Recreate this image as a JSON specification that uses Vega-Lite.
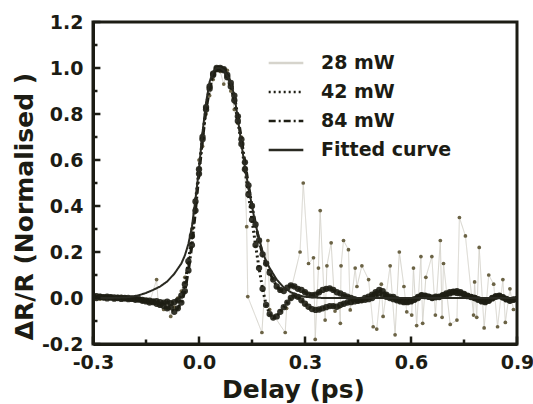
{
  "$schema": "https://vega.github.io/schema/vega-lite/v6.json",
  "width": 424,
  "height": 322,
  "autosize": {"type": "none"},
  "padding": {"left": 93, "top": 22, "right": 16, "bottom": 60},
  "background": "white",
  "config": {
    "view": {"stroke": null},
    "font": "DejaVu Sans",
    "axis": {
      "grid": false,
      "labelFont": "DejaVu Sans",
      "labelFontWeight": "bold",
      "labelFontSize": 19,
      "labelColor": "#1c1c14",
      "titleFont": "DejaVu Sans",
      "titleFontWeight": "bold",
      "titleFontSize": 25,
      "titleColor": "#1c1c14"
    },
    "legend": {
      "orient": "none",
      "legendX": 174,
      "legendY": 22,
      "title": null,
      "symbolType": "stroke",
      "symbolSize": 1200,
      "symbolStrokeWidth": 2.5,
      "labelFont": "DejaVu Sans",
      "labelFontWeight": "bold",
      "labelFontSize": 19,
      "labelColor": "#1c1c14",
      "labelOffset": 16,
      "rowPadding": 0,
      "labelLimit": 300
    }
  },
  "datasets": {
    "frame": [
      {"i": 0, "x": -0.3, "y": -0.2},
      {"i": 1, "x": 0.9, "y": -0.2},
      {"i": 2, "x": 0.9, "y": 1.2},
      {"i": 3, "x": -0.3, "y": 1.2},
      {"i": 4, "x": -0.3, "y": -0.2}
    ],
    "xticks": [
      {"x": -0.3, "y": -0.2, "k": "major"},
      {"x": -0.15, "y": -0.2, "k": "minor"},
      {"x": 0.0, "y": -0.2, "k": "major"},
      {"x": 0.15, "y": -0.2, "k": "minor"},
      {"x": 0.3, "y": -0.2, "k": "major"},
      {"x": 0.45, "y": -0.2, "k": "minor"},
      {"x": 0.6, "y": -0.2, "k": "major"},
      {"x": 0.75, "y": -0.2, "k": "minor"},
      {"x": 0.9, "y": -0.2, "k": "major"}
    ],
    "yticks": [
      {"x": -0.3, "y": -0.2, "k": "major"},
      {"x": -0.3, "y": -0.1, "k": "minor"},
      {"x": -0.3, "y": 0.0, "k": "major"},
      {"x": -0.3, "y": 0.1, "k": "minor"},
      {"x": -0.3, "y": 0.2, "k": "major"},
      {"x": -0.3, "y": 0.3, "k": "minor"},
      {"x": -0.3, "y": 0.4, "k": "major"},
      {"x": -0.3, "y": 0.5, "k": "minor"},
      {"x": -0.3, "y": 0.6, "k": "major"},
      {"x": -0.3, "y": 0.7, "k": "minor"},
      {"x": -0.3, "y": 0.8, "k": "major"},
      {"x": -0.3, "y": 0.9, "k": "minor"},
      {"x": -0.3, "y": 1.0, "k": "major"},
      {"x": -0.3, "y": 1.1, "k": "minor"},
      {"x": -0.3, "y": 1.2, "k": "major"}
    ],
    "meas": [
      {"x": -0.30, "42 mW": 0.010, "84 mW": 0.005},
      {"x": -0.29, "42 mW": 0.008, "84 mW": 0.000},
      {"x": -0.28, "42 mW": 0.005, "84 mW": 0.006},
      {"x": -0.27, "42 mW": 0.004, "84 mW": 0.002},
      {"x": -0.26, "42 mW": 0.006, "84 mW": -0.002},
      {"x": -0.25, "42 mW": 0.002, "84 mW": 0.004},
      {"x": -0.24, "42 mW": 0.003, "84 mW": -0.003},
      {"x": -0.23, "42 mW": 0.000, "84 mW": 0.002},
      {"x": -0.22, "42 mW": 0.002, "84 mW": -0.004},
      {"x": -0.21, "42 mW": -0.002, "84 mW": 0.000},
      {"x": -0.20, "42 mW": 0.000, "84 mW": -0.005},
      {"x": -0.19, "42 mW": -0.004, "84 mW": -0.002},
      {"x": -0.18, "42 mW": -0.003, "84 mW": -0.008},
      {"x": -0.17, "42 mW": -0.006, "84 mW": -0.006},
      {"x": -0.16, "42 mW": -0.008, "84 mW": -0.012},
      {"x": -0.15, "42 mW": -0.010, "84 mW": -0.015},
      {"x": -0.14, "42 mW": -0.012, "84 mW": -0.020},
      {"x": -0.13, "42 mW": -0.015, "84 mW": -0.018},
      {"x": -0.12, "42 mW": -0.014, "84 mW": -0.025},
      {"x": -0.11, "42 mW": -0.018, "84 mW": -0.030},
      {"x": -0.10, "42 mW": -0.020, "84 mW": -0.035},
      {"x": -0.09, "42 mW": -0.016, "84 mW": -0.045},
      {"x": -0.08, "42 mW": -0.022, "84 mW": -0.040},
      {"x": -0.07, "42 mW": -0.018, "84 mW": -0.060},
      {"x": -0.06, "42 mW": -0.010, "84 mW": -0.045},
      {"x": -0.05, "42 mW": 0.010, "84 mW": -0.020},
      {"x": -0.04, "42 mW": 0.060, "84 mW": 0.030},
      {"x": -0.03, "42 mW": 0.160, "84 mW": 0.120},
      {"x": -0.02, "42 mW": 0.270, "84 mW": 0.230},
      {"x": -0.01, "42 mW": 0.420, "84 mW": 0.380},
      {"x": 0.00, "42 mW": 0.560, "84 mW": 0.540},
      {"x": 0.01, "42 mW": 0.700, "84 mW": 0.690},
      {"x": 0.02, "42 mW": 0.830, "84 mW": 0.820},
      {"x": 0.03, "42 mW": 0.920, "84 mW": 0.910},
      {"x": 0.04, "42 mW": 0.970, "84 mW": 0.975},
      {"x": 0.05, "42 mW": 0.995, "84 mW": 1.000},
      {"x": 0.06, "42 mW": 1.000, "84 mW": 0.995},
      {"x": 0.07, "42 mW": 0.995, "84 mW": 0.990},
      {"x": 0.08, "42 mW": 0.960, "84 mW": 0.970},
      {"x": 0.09, "42 mW": 0.920, "84 mW": 0.935},
      {"x": 0.10, "42 mW": 0.860, "84 mW": 0.880},
      {"x": 0.11, "42 mW": 0.770, "84 mW": 0.790},
      {"x": 0.12, "42 mW": 0.670, "84 mW": 0.690},
      {"x": 0.13, "42 mW": 0.560, "84 mW": 0.590},
      {"x": 0.14, "42 mW": 0.450, "84 mW": 0.490},
      {"x": 0.15, "42 mW": 0.340, "84 mW": 0.400},
      {"x": 0.16, "42 mW": 0.230, "84 mW": 0.320},
      {"x": 0.17, "42 mW": 0.130, "84 mW": 0.250},
      {"x": 0.18, "42 mW": 0.040, "84 mW": 0.190},
      {"x": 0.19, "42 mW": -0.030, "84 mW": 0.150},
      {"x": 0.20, "42 mW": -0.070, "84 mW": 0.110},
      {"x": 0.21, "42 mW": -0.085, "84 mW": 0.080},
      {"x": 0.22, "42 mW": -0.080, "84 mW": 0.050},
      {"x": 0.23, "42 mW": -0.060, "84 mW": 0.035},
      {"x": 0.24, "42 mW": -0.040, "84 mW": 0.030},
      {"x": 0.25, "42 mW": -0.020, "84 mW": 0.045},
      {"x": 0.26, "42 mW": 0.000, "84 mW": 0.055},
      {"x": 0.27, "42 mW": 0.010, "84 mW": 0.050},
      {"x": 0.28, "42 mW": 0.005, "84 mW": 0.040},
      {"x": 0.29, "42 mW": -0.010, "84 mW": 0.035},
      {"x": 0.30, "42 mW": -0.025, "84 mW": 0.025},
      {"x": 0.31, "42 mW": -0.038, "84 mW": 0.015},
      {"x": 0.32, "42 mW": -0.048, "84 mW": 0.012},
      {"x": 0.33, "42 mW": -0.052, "84 mW": 0.015},
      {"x": 0.34, "42 mW": -0.050, "84 mW": 0.025},
      {"x": 0.35, "42 mW": -0.045, "84 mW": 0.035},
      {"x": 0.36, "42 mW": -0.040, "84 mW": 0.040},
      {"x": 0.37, "42 mW": -0.035, "84 mW": 0.042},
      {"x": 0.38, "42 mW": -0.035, "84 mW": 0.035},
      {"x": 0.39, "42 mW": -0.038, "84 mW": 0.025},
      {"x": 0.40, "42 mW": -0.030, "84 mW": 0.020},
      {"x": 0.41, "42 mW": -0.025, "84 mW": 0.012},
      {"x": 0.42, "42 mW": -0.020, "84 mW": 0.006},
      {"x": 0.43, "42 mW": -0.018, "84 mW": 0.000},
      {"x": 0.44, "42 mW": -0.015, "84 mW": -0.005},
      {"x": 0.45, "42 mW": -0.012, "84 mW": -0.010},
      {"x": 0.46, "42 mW": -0.010, "84 mW": -0.008},
      {"x": 0.47, "42 mW": -0.008, "84 mW": 0.000},
      {"x": 0.48, "42 mW": -0.005, "84 mW": 0.006},
      {"x": 0.49, "42 mW": 0.000, "84 mW": 0.015},
      {"x": 0.50, "42 mW": 0.010, "84 mW": 0.025},
      {"x": 0.51, "42 mW": 0.020, "84 mW": 0.035},
      {"x": 0.52, "42 mW": 0.015, "84 mW": 0.030},
      {"x": 0.53, "42 mW": 0.005, "84 mW": 0.015},
      {"x": 0.54, "42 mW": 0.000, "84 mW": 0.006},
      {"x": 0.55, "42 mW": -0.005, "84 mW": 0.005},
      {"x": 0.56, "42 mW": -0.010, "84 mW": -0.005},
      {"x": 0.57, "42 mW": -0.015, "84 mW": -0.010},
      {"x": 0.58, "42 mW": -0.018, "84 mW": -0.015},
      {"x": 0.59, "42 mW": -0.015, "84 mW": -0.018},
      {"x": 0.60, "42 mW": -0.012, "84 mW": -0.015},
      {"x": 0.61, "42 mW": -0.005, "84 mW": -0.008},
      {"x": 0.62, "42 mW": 0.005, "84 mW": 0.000},
      {"x": 0.63, "42 mW": 0.010, "84 mW": 0.012},
      {"x": 0.64, "42 mW": 0.008, "84 mW": 0.010},
      {"x": 0.65, "42 mW": 0.005, "84 mW": 0.006},
      {"x": 0.66, "42 mW": 0.000, "84 mW": 0.002},
      {"x": 0.67, "42 mW": 0.003, "84 mW": 0.006},
      {"x": 0.68, "42 mW": 0.006, "84 mW": 0.004},
      {"x": 0.69, "42 mW": 0.010, "84 mW": 0.012},
      {"x": 0.70, "42 mW": 0.015, "84 mW": 0.020},
      {"x": 0.71, "42 mW": 0.020, "84 mW": 0.025},
      {"x": 0.72, "42 mW": 0.025, "84 mW": 0.028},
      {"x": 0.73, "42 mW": 0.022, "84 mW": 0.030},
      {"x": 0.74, "42 mW": 0.020, "84 mW": 0.025},
      {"x": 0.75, "42 mW": 0.015, "84 mW": 0.018},
      {"x": 0.76, "42 mW": 0.010, "84 mW": 0.008},
      {"x": 0.77, "42 mW": 0.005, "84 mW": 0.004},
      {"x": 0.78, "42 mW": 0.000, "84 mW": 0.000},
      {"x": 0.79, "42 mW": -0.005, "84 mW": -0.008},
      {"x": 0.80, "42 mW": -0.012, "84 mW": -0.015},
      {"x": 0.81, "42 mW": -0.015, "84 mW": -0.018},
      {"x": 0.82, "42 mW": -0.010, "84 mW": -0.012},
      {"x": 0.83, "42 mW": -0.002, "84 mW": 0.000},
      {"x": 0.84, "42 mW": 0.005, "84 mW": 0.008},
      {"x": 0.85, "42 mW": 0.008, "84 mW": 0.010},
      {"x": 0.86, "42 mW": 0.002, "84 mW": 0.004},
      {"x": 0.87, "42 mW": -0.004, "84 mW": -0.006},
      {"x": 0.88, "42 mW": -0.010, "84 mW": -0.012},
      {"x": 0.89, "42 mW": -0.006, "84 mW": -0.008},
      {"x": 0.90, "42 mW": -0.004, "84 mW": -0.005}
    ],
    "noisy": [
      {"s": "28 mW", "x": -0.30, "y": 0.005},
      {"s": "28 mW", "x": -0.28, "y": -0.005},
      {"s": "28 mW", "x": -0.26, "y": 0.008},
      {"s": "28 mW", "x": -0.24, "y": -0.004},
      {"s": "28 mW", "x": -0.22, "y": 0.006},
      {"s": "28 mW", "x": -0.20, "y": -0.006},
      {"s": "28 mW", "x": -0.18, "y": 0.004},
      {"s": "28 mW", "x": -0.16, "y": -0.012},
      {"s": "28 mW", "x": -0.14, "y": -0.020},
      {"s": "28 mW", "x": -0.12, "y": 0.080},
      {"s": "28 mW", "x": -0.115, "y": -0.030},
      {"s": "28 mW", "x": -0.10, "y": -0.050},
      {"s": "28 mW", "x": -0.09, "y": -0.020},
      {"s": "28 mW", "x": -0.08, "y": -0.080},
      {"s": "28 mW", "x": -0.07, "y": -0.040},
      {"s": "28 mW", "x": -0.06, "y": 0.000},
      {"s": "28 mW", "x": -0.05, "y": 0.030},
      {"s": "28 mW", "x": -0.04, "y": 0.090},
      {"s": "28 mW", "x": -0.03, "y": 0.150},
      {"s": "28 mW", "x": -0.02, "y": 0.300},
      {"s": "28 mW", "x": -0.01, "y": 0.380},
      {"s": "28 mW", "x": 0.00, "y": 0.600},
      {"s": "28 mW", "x": 0.01, "y": 0.660},
      {"s": "28 mW", "x": 0.02, "y": 0.800},
      {"s": "28 mW", "x": 0.03, "y": 0.880},
      {"s": "28 mW", "x": 0.04, "y": 0.950},
      {"s": "28 mW", "x": 0.05, "y": 0.990},
      {"s": "28 mW", "x": 0.06, "y": 0.985},
      {"s": "28 mW", "x": 0.07, "y": 0.930},
      {"s": "28 mW", "x": 0.08, "y": 0.990},
      {"s": "28 mW", "x": 0.09, "y": 0.900},
      {"s": "28 mW", "x": 0.10, "y": 0.820},
      {"s": "28 mW", "x": 0.11, "y": 0.760},
      {"s": "28 mW", "x": 0.12, "y": 0.700},
      {"s": "28 mW", "x": 0.13, "y": 0.560},
      {"s": "28 mW", "x": 0.135, "y": 0.310},
      {"s": "28 mW", "x": 0.138, "y": 0.006},
      {"s": "28 mW", "x": 0.178, "y": -0.150},
      {"s": "28 mW", "x": 0.195, "y": 0.250},
      {"s": "28 mW", "x": 0.200, "y": -0.050},
      {"s": "28 mW", "x": 0.244, "y": -0.150},
      {"s": "28 mW", "x": 0.248, "y": -0.045},
      {"s": "28 mW", "x": 0.286, "y": 0.200},
      {"s": "28 mW", "x": 0.295, "y": 0.500},
      {"s": "28 mW", "x": 0.310, "y": 0.150},
      {"s": "28 mW", "x": 0.324, "y": 0.175},
      {"s": "28 mW", "x": 0.329, "y": -0.180},
      {"s": "28 mW", "x": 0.338, "y": 0.130},
      {"s": "28 mW", "x": 0.343, "y": 0.380},
      {"s": "28 mW", "x": 0.357, "y": -0.096},
      {"s": "28 mW", "x": 0.362, "y": 0.140},
      {"s": "28 mW", "x": 0.374, "y": 0.240},
      {"s": "28 mW", "x": 0.385, "y": -0.057},
      {"s": "28 mW", "x": 0.397, "y": -0.040},
      {"s": "28 mW", "x": 0.400, "y": -0.110},
      {"s": "28 mW", "x": 0.402, "y": 0.140},
      {"s": "28 mW", "x": 0.409, "y": 0.250},
      {"s": "28 mW", "x": 0.423, "y": 0.210},
      {"s": "28 mW", "x": 0.428, "y": -0.052},
      {"s": "28 mW", "x": 0.442, "y": 0.130},
      {"s": "28 mW", "x": 0.447, "y": 0.050},
      {"s": "28 mW", "x": 0.461, "y": 0.140},
      {"s": "28 mW", "x": 0.480, "y": 0.080},
      {"s": "28 mW", "x": 0.493, "y": -0.125},
      {"s": "28 mW", "x": 0.503, "y": -0.135},
      {"s": "28 mW", "x": 0.516, "y": 0.060},
      {"s": "28 mW", "x": 0.521, "y": -0.080},
      {"s": "28 mW", "x": 0.541, "y": 0.140},
      {"s": "28 mW", "x": 0.555, "y": -0.160},
      {"s": "28 mW", "x": 0.567, "y": 0.200},
      {"s": "28 mW", "x": 0.580, "y": 0.050},
      {"s": "28 mW", "x": 0.588, "y": -0.060},
      {"s": "28 mW", "x": 0.602, "y": -0.074},
      {"s": "28 mW", "x": 0.607, "y": 0.130},
      {"s": "28 mW", "x": 0.616, "y": -0.120},
      {"s": "28 mW", "x": 0.628, "y": 0.180},
      {"s": "28 mW", "x": 0.633, "y": -0.110},
      {"s": "28 mW", "x": 0.642, "y": 0.090},
      {"s": "28 mW", "x": 0.659, "y": 0.180},
      {"s": "28 mW", "x": 0.669, "y": -0.074},
      {"s": "28 mW", "x": 0.683, "y": 0.250},
      {"s": "28 mW", "x": 0.688, "y": -0.084},
      {"s": "28 mW", "x": 0.692, "y": 0.150},
      {"s": "28 mW", "x": 0.711, "y": -0.115},
      {"s": "28 mW", "x": 0.730, "y": -0.096},
      {"s": "28 mW", "x": 0.737, "y": 0.350},
      {"s": "28 mW", "x": 0.754, "y": 0.270},
      {"s": "28 mW", "x": 0.777, "y": -0.074},
      {"s": "28 mW", "x": 0.780, "y": 0.070},
      {"s": "28 mW", "x": 0.786, "y": -0.084},
      {"s": "28 mW", "x": 0.793, "y": 0.220},
      {"s": "28 mW", "x": 0.807, "y": -0.130},
      {"s": "28 mW", "x": 0.820, "y": 0.100},
      {"s": "28 mW", "x": 0.834, "y": 0.060},
      {"s": "28 mW", "x": 0.845, "y": -0.125},
      {"s": "28 mW", "x": 0.860, "y": 0.080},
      {"s": "28 mW", "x": 0.867, "y": -0.106},
      {"s": "28 mW", "x": 0.880, "y": 0.040},
      {"s": "28 mW", "x": 0.890, "y": -0.050}
    ],
    "fit": [
      {"s": "Fitted curve", "x": -0.30, "y": 0.000},
      {"s": "Fitted curve", "x": -0.25, "y": 0.000},
      {"s": "Fitted curve", "x": -0.20, "y": 0.003},
      {"s": "Fitted curve", "x": -0.17, "y": 0.012},
      {"s": "Fitted curve", "x": -0.15, "y": 0.022},
      {"s": "Fitted curve", "x": -0.13, "y": 0.035},
      {"s": "Fitted curve", "x": -0.11, "y": 0.050},
      {"s": "Fitted curve", "x": -0.09, "y": 0.072},
      {"s": "Fitted curve", "x": -0.07, "y": 0.105},
      {"s": "Fitted curve", "x": -0.05, "y": 0.150},
      {"s": "Fitted curve", "x": -0.04, "y": 0.185},
      {"s": "Fitted curve", "x": -0.03, "y": 0.235},
      {"s": "Fitted curve", "x": -0.02, "y": 0.310},
      {"s": "Fitted curve", "x": -0.01, "y": 0.430},
      {"s": "Fitted curve", "x": 0.00, "y": 0.560},
      {"s": "Fitted curve", "x": 0.01, "y": 0.720},
      {"s": "Fitted curve", "x": 0.02, "y": 0.850},
      {"s": "Fitted curve", "x": 0.03, "y": 0.940},
      {"s": "Fitted curve", "x": 0.04, "y": 0.985},
      {"s": "Fitted curve", "x": 0.05, "y": 1.000},
      {"s": "Fitted curve", "x": 0.06, "y": 1.000},
      {"s": "Fitted curve", "x": 0.07, "y": 0.990},
      {"s": "Fitted curve", "x": 0.08, "y": 0.965},
      {"s": "Fitted curve", "x": 0.09, "y": 0.935},
      {"s": "Fitted curve", "x": 0.10, "y": 0.880},
      {"s": "Fitted curve", "x": 0.11, "y": 0.780},
      {"s": "Fitted curve", "x": 0.12, "y": 0.670},
      {"s": "Fitted curve", "x": 0.13, "y": 0.570},
      {"s": "Fitted curve", "x": 0.14, "y": 0.480},
      {"s": "Fitted curve", "x": 0.15, "y": 0.400},
      {"s": "Fitted curve", "x": 0.16, "y": 0.320},
      {"s": "Fitted curve", "x": 0.17, "y": 0.260},
      {"s": "Fitted curve", "x": 0.18, "y": 0.200},
      {"s": "Fitted curve", "x": 0.19, "y": 0.160},
      {"s": "Fitted curve", "x": 0.20, "y": 0.130},
      {"s": "Fitted curve", "x": 0.22, "y": 0.080},
      {"s": "Fitted curve", "x": 0.24, "y": 0.045},
      {"s": "Fitted curve", "x": 0.26, "y": 0.025},
      {"s": "Fitted curve", "x": 0.28, "y": 0.012},
      {"s": "Fitted curve", "x": 0.30, "y": 0.005},
      {"s": "Fitted curve", "x": 0.35, "y": 0.000},
      {"s": "Fitted curve", "x": 0.90, "y": 0.000}
    ]
  },
  "encoding": {
    "x": {
      "field": "x", "type": "quantitative",
      "scale": {"domain": [-0.3, 0.9], "nice": false, "zero": false},
      "axis": {
        "title": "Delay (ps)",
        "values": [-0.3, 0, 0.3, 0.6, 0.9],
        "labelExpr": "replace(format(datum.value, '.1f'), '\u2212', '-')",
        "domain": true,
        "domainColor": "#1c1c14",
        "domainWidth": 3,
        "domainDash": [1, 0],
        "ticks": true,
        "tickOpacity": 0,
        "tickSize": 6,
        "labelPadding": 3,
        "labelFlush": false,
        "titleX": 200,
        "titleY": 53,
        "titleBaseline": "alphabetic",
        "titleAlign": "center"
      }
    },
    "y": {
      "field": "y", "type": "quantitative",
      "scale": {"domain": [-0.2, 1.2], "nice": false, "zero": false},
      "axis": {
        "title": "ΔR/R (Normalised )",
        "values": [-0.2, 0, 0.2, 0.4, 0.6, 0.8, 1.0, 1.2],
        "labelExpr": "replace(format(datum.value, '.1f'), '\u2212', '-')",
        "domain": true,
        "domainColor": "#1c1c14",
        "domainWidth": 3,
        "domainDash": [1, 0],
        "ticks": true,
        "tickOpacity": 0,
        "tickSize": 6,
        "labelPadding": 4,
        "labelFlush": false,
        "titleX": -61,
        "titleY": 184,
        "titleAngle": -90,
        "titleBaseline": "alphabetic",
        "titleAlign": "center"
      }
    }
  },
  "layer": [
    {
      "data": {"name": "noisy"},
      "mark": {"type": "line", "strokeWidth": 1, "clip": true},
      "encoding": {
        "color": {"field": "s", "type": "nominal", "scale": {"domain": ["28 mW", "42 mW", "84 mW", "Fitted curve"], "range": ["#d6d4cc", "#1e1e14", "#1e1e14", "#2a2a22"]}},
        "strokeDash": {"field": "s", "type": "nominal", "scale": {"domain": ["28 mW", "42 mW", "84 mW", "Fitted curve"], "range": [[1, 0], [2, 3], [7, 3, 2, 3], [1, 0]]}}
      }
    },
    {
      "data": {"name": "noisy"},
      "mark": {"type": "circle", "size": 14, "color": "#6b6345", "opacity": 1, "clip": true}
    },
    {
      "data": {"name": "meas"},
      "transform": [{"fold": ["42 mW", "84 mW"], "as": ["s", "y"]}],
      "mark": {"type": "line", "strokeWidth": 3, "clip": true},
      "encoding": {
        "color": {"field": "s", "type": "nominal"},
        "strokeDash": {"field": "s", "type": "nominal"}
      }
    },
    {
      "data": {"name": "meas"},
      "transform": [{"fold": ["42 mW", "84 mW"], "as": ["s", "y"]}],
      "mark": {"type": "circle", "size": 40, "color": "#1e1e14", "opacity": 0.9, "clip": true}
    },
    {
      "data": {"name": "fit"},
      "mark": {"type": "line", "strokeWidth": 2, "clip": true},
      "encoding": {
        "color": {"field": "s", "type": "nominal"},
        "strokeDash": {"field": "s", "type": "nominal"}
      }
    },
    {
      "data": {"name": "frame"},
      "mark": {"type": "line", "color": "#1c1c14", "strokeWidth": 3, "strokeDash": [1, 0], "strokeCap": "square"},
      "encoding": {
        "order": {"field": "i", "type": "quantitative"}
      }
    },
    {
      "data": {"name": "xticks"},
      "mark": {"type": "point", "shape": "M0,0L0,-1", "filled": false, "color": "#1c1c14", "strokeWidth": 2.5, "strokeDash": [1, 0], "opacity": 1},
      "encoding": {
        "size": {"field": "k", "type": "nominal", "scale": {"domain": ["major", "minor"], "range": [220, 80]}, "legend": null}
      }
    },
    {
      "data": {"name": "yticks"},
      "mark": {"type": "point", "shape": "M0,0L1,0", "filled": false, "color": "#1c1c14", "strokeWidth": 2.5, "strokeDash": [1, 0], "opacity": 1},
      "encoding": {
        "size": {"field": "k", "type": "nominal", "scale": {"domain": ["major", "minor"], "range": [220, 80]}, "legend": null}
      }
    }
  ]
}
